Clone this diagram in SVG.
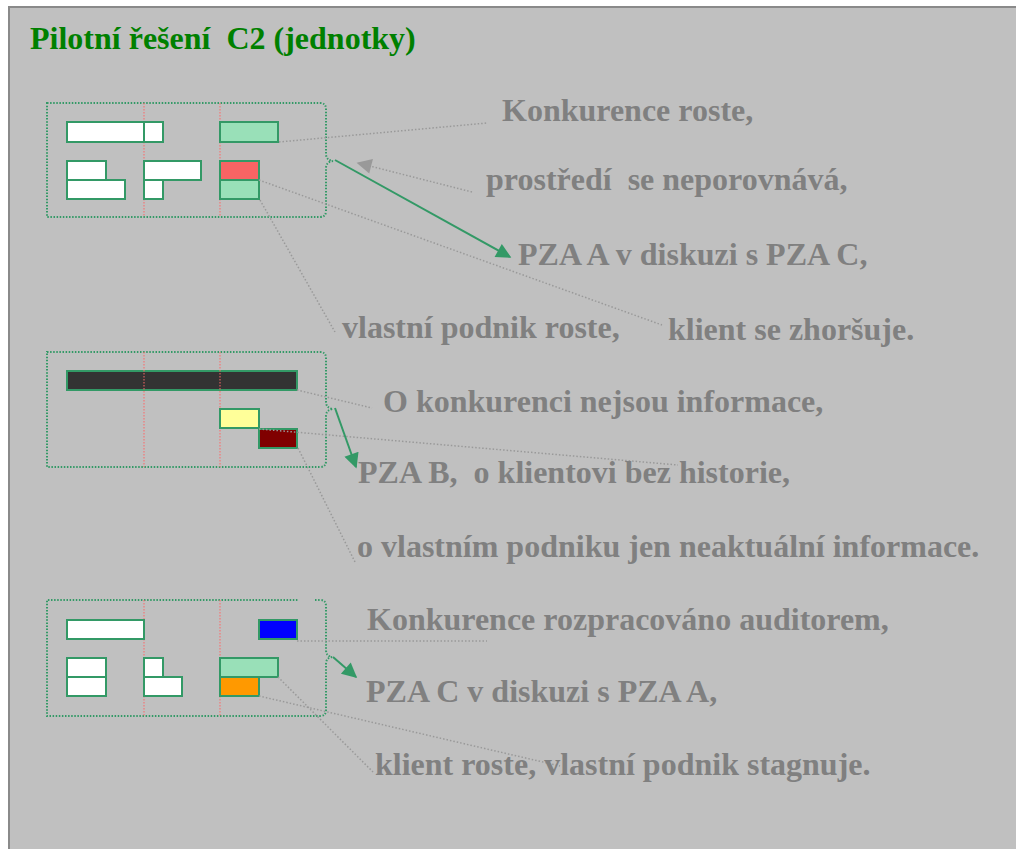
<svg xmlns="http://www.w3.org/2000/svg" width="1016" height="849" viewBox="0 0 1016 849">
  <defs>
    <style>
      .label { font-family: "Liberation Serif", "Times New Roman", serif; font-weight: bold; font-size: 32px; fill: #808080; }
      .title { font-family: "Liberation Serif", "Times New Roman", serif; font-weight: bold; font-size: 32px; fill: #008000; }
      .frame { fill: none; stroke: #339966; stroke-width: 2; stroke-dasharray: 1.5 1.6; }
      .col { stroke: #ff6666; stroke-width: 1; stroke-dasharray: 1.5 1.5; }
      .unit { stroke: #339966; stroke-width: 2; }
      .callout { fill: none; stroke: #999999; stroke-width: 1.5; stroke-dasharray: 1.5 2; }
      .flow { fill: none; stroke: #339966; stroke-width: 2; }
    </style>
    <marker id="headGreen" viewBox="0 0 10 10" refX="9" refY="5" markerUnits="userSpaceOnUse" markerWidth="18" markerHeight="15" orient="auto">
      <path d="M0,0 L10,5 L0,10 Z" fill="#339966"/>
    </marker>
    <marker id="headGray" viewBox="0 0 10 10" refX="9" refY="5" markerUnits="userSpaceOnUse" markerWidth="17" markerHeight="15" orient="auto">
      <path d="M0,0 L10,5 L0,10 Z" fill="#999999"/>
    </marker>
  </defs>

  <!-- slide background -->
  <rect x="0" y="0" width="1016" height="849" fill="#ffffff"/>
  <rect x="9" y="7" width="1012" height="850" fill="#c0c0c0" stroke="#8a8a8a" stroke-width="2"/>

  <text class="title" x="30" y="49" xml:space="preserve">Pilotní řešení  C2 (jednotky)</text>

  <!-- unit group 1 -->
  <g id="group1">
    <path class="frame" d="M47,103 H320 Q326,103 326,109 V154 Q326,160 333,161 Q326,162 326,168 V211 Q326,217 320,217 H47 Z"/>
    <line class="col" x1="144" y1="103" x2="144" y2="217"/>
    <line class="col" x1="220" y1="103" x2="220" y2="217"/>
    <rect class="unit" x="67" y="122" width="77" height="20" fill="#ffffff"/>
    <rect class="unit" x="144" y="122" width="19" height="20" fill="#ffffff"/>
    <rect class="unit" x="220" y="122" width="58" height="20" fill="#99e0b8"/>
    <rect class="unit" x="67" y="161" width="39" height="19" fill="#ffffff"/>
    <rect class="unit" x="67" y="180" width="58" height="19" fill="#ffffff"/>
    <rect class="unit" x="144" y="161" width="57" height="19" fill="#ffffff"/>
    <rect class="unit" x="144" y="180" width="19" height="19" fill="#ffffff"/>
    <rect class="unit" x="220" y="161" width="39" height="19" fill="#f86464"/>
    <rect class="unit" x="220" y="180" width="39" height="19" fill="#99e0b8"/>
  </g>

  <!-- unit group 2 -->
  <g id="group2">
    <path class="frame" d="M47,352 H320 Q326,352 326,358 V402 Q326,408 333,409 Q326,410 326,416 V461 Q326,467 320,467 H47 Z"/>
    <rect class="unit" x="67" y="371" width="230" height="19" fill="#333333"/>
    <line class="col" x1="144" y1="352" x2="144" y2="467"/>
    <line class="col" x1="220" y1="352" x2="220" y2="467"/>
    <rect class="unit" x="220" y="409" width="39" height="19" fill="#ffff99"/>
    <rect class="unit" x="259" y="429" width="38" height="19" fill="#800000"/>
  </g>

  <!-- unit group 3 -->
  <g id="group3">
    <path class="frame" d="M315,600 H320 Q326,600 326,606 V650 Q326,656 332,657 Q326,658 326,664 V710 Q326,716 320,716 H47 V600 H298"/>
    <line class="col" x1="144" y1="600" x2="144" y2="716"/>
    <line class="col" x1="220" y1="600" x2="220" y2="716"/>
    <rect class="unit" x="67" y="620" width="77" height="19" fill="#ffffff"/>
    <rect class="unit" x="259" y="620" width="38" height="19" fill="#0000ff"/>
    <rect class="unit" x="67" y="658" width="39" height="19" fill="#ffffff"/>
    <rect class="unit" x="67" y="677" width="39" height="19" fill="#ffffff"/>
    <rect class="unit" x="144" y="658" width="19" height="19" fill="#ffffff"/>
    <rect class="unit" x="144" y="677" width="38" height="19" fill="#ffffff"/>
    <rect class="unit" x="220" y="658" width="58" height="19" fill="#99e0b8"/>
    <rect class="unit" x="220" y="677" width="39" height="19" fill="#ff9900"/>
  </g>

  <!-- connectors -->
  <g id="connectors">
    <line class="callout" x1="279" y1="142" x2="487" y2="123"/>
    <line class="callout" x1="259" y1="180" x2="662" y2="325"/>
    <line class="callout" x1="260" y1="200" x2="335" y2="332"/>
    <line class="callout" x1="472" y1="192" x2="358" y2="163" marker-end="url(#headGray)"/>
    <line class="flow" x1="335" y1="160" x2="510" y2="257" marker-end="url(#headGreen)"/>

    <line class="callout" x1="297" y1="390" x2="372" y2="408"/>
    <line class="callout" x1="259" y1="429" x2="678" y2="465"/>
    <line class="callout" x1="298" y1="448" x2="355" y2="562"/>
    <line class="flow" x1="335" y1="408" x2="356" y2="467" marker-end="url(#headGreen)"/>

    <line class="callout" x1="297" y1="641" x2="487" y2="641"/>
    <line class="callout" x1="278" y1="677" x2="373" y2="772"/>
    <line class="callout" x1="259" y1="696" x2="560" y2="766"/>
    <line class="flow" x1="333" y1="657" x2="356" y2="677" marker-end="url(#headGreen)"/>
  </g>

  <!-- labels -->
  <g id="labels">
    <text class="label" x="502" y="121">Konkurence roste,</text>
    <text class="label" x="486" y="190" xml:space="preserve">prostředí  se neporovnává,</text>
    <text class="label" x="518" y="265">PZA A v diskuzi s PZA C,</text>
    <text class="label" x="342" y="338">vlastní podnik roste,</text>
    <text class="label" x="668" y="340">klient se zhoršuje.</text>
    <text class="label" x="383" y="412">O konkurenci nejsou informace,</text>
    <text class="label" x="358" y="483" xml:space="preserve">PZA B,  o klientovi bez historie,</text>
    <text class="label" x="357" y="557">o vlastním podniku jen neaktuální informace.</text>
    <text class="label" x="367" y="630">Konkurence rozpracováno auditorem,</text>
    <text class="label" x="366" y="702">PZA C v diskuzi s PZA A,</text>
    <text class="label" x="375" y="775">klient roste, vlastní podnik stagnuje.</text>
  </g>
</svg>
